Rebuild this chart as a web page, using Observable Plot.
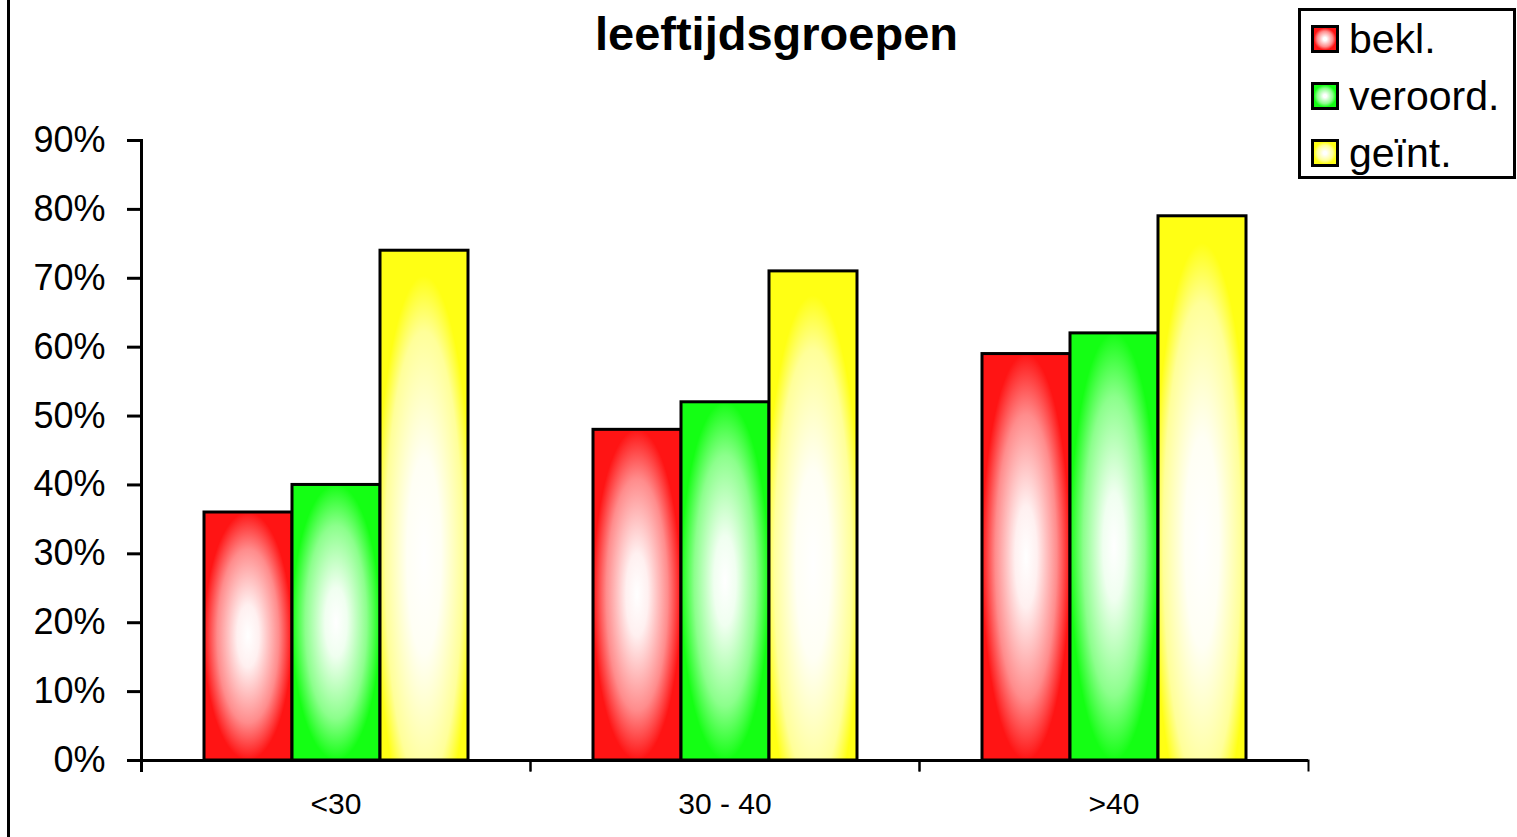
<!DOCTYPE html>
<html>
<head>
<meta charset="utf-8">
<script src="https://cdn.jsdelivr.net/npm/d3@7"></script>
<script src="https://cdn.jsdelivr.net/npm/@observablehq/plot@0.6"></script>
<style>
  html, body { margin: 0; padding: 0; background: #fff; }
  #wrap { position: relative; width: 1517px; height: 837px; overflow: hidden; font-family: 'Liberation Sans', Arial, sans-serif; }
  #border { position: absolute; left: 7px; top: 0; width: 3px; height: 837px; background: #000; }
  #title { position: absolute; left: 0; top: 11px; width: 1553px; text-align: center; font-weight: bold; font-size: 47px; line-height: 46px; color: #000; }
  #legend { position: absolute; left: 1298px; top: 8px; width: 212px; height: 165px; border: 3px solid #000; background: #fff; }
  .item { position: absolute; left: 10px; height: 40px; display: flex; align-items: center; font-size: 41px; color: #000; }
  .sw { width: 22px; height: 22px; border: 3px solid #000; margin-right: 10px; }
  #chart { position: absolute; left: 0; top: 0; }
</style>
</head>
<body>
<div id="wrap">
  <div id="chart"></div>
  <div id="border"></div>
  <div id="title">leeftijdsgroepen</div>
  <div id="legend"></div>
</div>
<script>
// ---- data ----
const groups = ["<30", "30 - 40", ">40"];
const series = ["bekl.", "veroord.", "geïnt."];
const bekl = [0.36, 0.48, 0.59];
const veroord = [0.40, 0.52, 0.62];
const geint = [0.74, 0.71, 0.79];
const yTicks = [0, 0.1, 0.2, 0.3, 0.4, 0.5, 0.6, 0.7, 0.8, 0.9];

// ---- styles ----
const edgeColors = ["#ff1414", "#14ff14", "#ffff14"];
const midColors = ["#ff8c8c", "#8cff8c", "#ffff99"];
const innerColors = ["#fff0f0", "#f0fff0", "#fffff4"];

const valuesBySeries = [bekl, veroord, geint];
const data = [];
groups.forEach((g, gi) => series.forEach((s, si) => data.push({group: g, series: s, value: valuesBySeries[si][gi]})));

const W = 1517, H = 837, mT = 140, mB = 77;
const plotH = H - mT - mB;

const chart = Plot.plot({
  width: W, height: H,
  marginLeft: 141, marginRight: 209, marginTop: mT, marginBottom: mB,
  style: {fontFamily: "'Liberation Sans', Arial, sans-serif", background: "transparent", color: "#000"},
  fx: {domain: groups, padding: 0, label: null, axis: null},
  x: {domain: series, paddingInner: 0, paddingOuter: 0.71, axis: null},
  y: {domain: [0, 0.9], axis: null},
  color: {domain: series, range: series.map((s, i) => `url(#grad${i})`)},
  marks: [
    Plot.axisY({ticks: yTicks, tickFormat: d3.format(".0%"), tickSize: 14, tickPadding: 22, fontSize: 36, strokeWidth: 3, label: null}),
    Plot.barY(data, {fx: "group", x: "series", y: "value", fill: "series", stroke: "#000", strokeWidth: 3}),
    Plot.ruleY([0], {strokeWidth: 3}),
    Plot.frame({anchor: "left", facetAnchor: "left", strokeWidth: 3, insetBottom: -10}),
    Plot.frame({anchor: "left", strokeWidth: 2, insetTop: plotH, insetBottom: -10}),
    Plot.frame({anchor: "right", strokeWidth: 2, insetTop: plotH, insetBottom: -10}),
    Plot.axisFx({anchor: "bottom", tickSize: 0, tickPadding: 32, fontSize: 30, label: null})
  ]
});

// gradients
const defs = d3.select(chart).insert("defs", ":first-child");
series.forEach((s, i) => {
  const yellow = i === 2;
  const g = defs.append("radialGradient").attr("id", `grad${i}`)
    .attr("cx", 0.5).attr("cy", yellow ? 0.6 : 0.5).attr("r", yellow ? 0.55 : 0.5);
  g.append("stop").attr("offset", "0").attr("stop-color", "#ffffff");
  g.append("stop").attr("offset", yellow ? "0.35" : "0.25").attr("stop-color", innerColors[i]);
  g.append("stop").attr("offset", yellow ? "0.8" : "0.7").attr("stop-color", midColors[i]);
  g.append("stop").attr("offset", "1").attr("stop-color", edgeColors[i]);
});

document.getElementById("chart").appendChild(chart);

// legend
const legend = d3.select("#legend");
series.forEach((s, i) => {
  const item = legend.append("div").attr("class", "item").style("top", `${8 + i * 57}px`);
  item.append("div").attr("class", "sw")
    .style("background", `radial-gradient(ellipse closest-side, #fff 15%, ${midColors[i]} 70%, ${edgeColors[i]})`);
  item.append("span").text(s);
});
</script>
</body>
</html>
